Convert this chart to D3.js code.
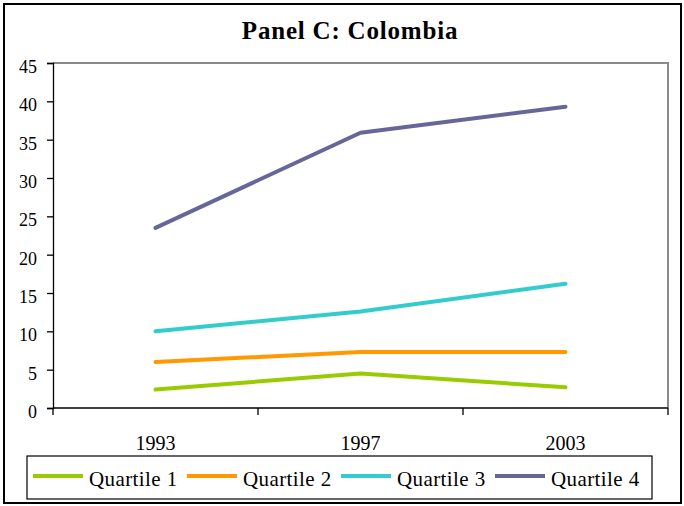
<!DOCTYPE html>
<html>
<head>
<meta charset="utf-8">
<script src="https://cdn.jsdelivr.net/npm/d3@7"></script>
<style>
  html, body { margin: 0; padding: 0; background: #fff; }
  svg { display: block; }
  text { font-family: "Liberation Serif", "DejaVu Serif", serif; fill: #000; }
</style>
</head>
<body>
<svg id="chart" width="684" height="506"></svg>
<script>
// Survey years on the category axis
const years = ["1993", "1997", "2003"];

// One series per income quartile
const quartile1 = [2.4, 4.5, 2.7];
const quartile2 = [6.0, 7.3, 7.3];
const quartile3 = [10.0, 12.6, 16.2];
const quartile4 = [23.5, 35.9, 39.3];

const seriesNames = ["Quartile 1", "Quartile 2", "Quartile 3", "Quartile 4"];
const seriesColors = ["#99cc00", "#ff9900", "#33cccc", "#666699"];
const yTicks = [0, 5, 10, 15, 20, 25, 30, 35, 40, 45];

const series = [quartile1, quartile2, quartile3, quartile4].map((vals, i) => ({
  name: seriesNames[i],
  color: seriesColors[i],
  values: vals.map((v, j) => ({ year: years[j], value: v }))
}));

const svg = d3.select("#chart");
const plot = { left: 53, right: 668, top: 63, bottom: 408 };

// Outer frame
svg.append("rect")
  .attr("x", 4).attr("y", 4)
  .attr("width", 677).attr("height", 499)
  .attr("fill", "none").attr("stroke", "#000").attr("stroke-width", 2);

// Title
svg.append("text")
  .attr("x", 350).attr("y", 39)
  .attr("text-anchor", "middle")
  .style("font-size", "25px").style("font-weight", "bold")
  .style("letter-spacing", "0.8px")
  .text("Panel C: Colombia");

const x = d3.scaleBand().domain(years).range([plot.left, plot.right]);
const y = d3.scaleLinear().domain([0, 45]).range([plot.bottom, plot.top]);

// Plot frame: grey top and right edges
svg.append("path")
  .attr("d", `M${plot.left},${plot.top}H${plot.right}V${plot.bottom}`)
  .attr("fill", "none").attr("stroke", "#8a8a8a").attr("stroke-width", 2);

// Y axis
const yAxis = svg.append("g")
  .attr("transform", `translate(${plot.left},0)`)
  .call(d3.axisLeft(y).tickValues(yTicks).tickSize(6).tickPadding(10).tickFormat(d3.format("d")));
yAxis.select(".domain").attr("stroke", "#000").attr("stroke-width", 1.3);
yAxis.selectAll(".tick line").attr("stroke", "#000").attr("stroke-width", 1.3);
yAxis.selectAll(".tick text")
  .style("font-size", "18px")
  .attr("font-family", null)
  .attr("dy", "0.52em");

// X axis: ticks on category boundaries, labels centred in each band
const xAxisG = svg.append("g").attr("transform", `translate(0,${plot.bottom})`);
xAxisG.append("line")
  .attr("x1", plot.left).attr("x2", plot.right)
  .attr("stroke", "#000").attr("stroke-width", 1.5);
const boundaries = years.map(d => x(d)).concat([x(years[years.length - 1]) + x.bandwidth()]);
xAxisG.selectAll("line.tick")
  .data(boundaries)
  .join("line").attr("class", "tick")
  .attr("x1", d => d).attr("x2", d => d)
  .attr("y1", 0).attr("y2", 7)
  .attr("stroke", "#000").attr("stroke-width", 1.3);
xAxisG.selectAll("text.label")
  .data(years)
  .join("text").attr("class", "label")
  .attr("x", d => x(d) + x.bandwidth() / 2)
  .attr("y", 42)
  .attr("text-anchor", "middle")
  .style("font-size", "20px")
  .text(d => d);

// Lines
const line = d3.line()
  .x(d => x(d.year) + x.bandwidth() / 2)
  .y(d => y(d.value));

svg.append("g").selectAll("path")
  .data(series)
  .join("path")
  .attr("d", d => line(d.values))
  .attr("fill", "none")
  .attr("stroke", d => d.color)
  .attr("stroke-width", 4)
  .attr("stroke-linejoin", "round")
  .attr("stroke-linecap", "round");

// Legend
svg.append("rect")
  .attr("x", 27).attr("y", 456)
  .attr("width", 625).attr("height", 43)
  .attr("fill", "#fff").attr("stroke", "#000").attr("stroke-width", 1.2);

const legend = svg.append("g").selectAll("g")
  .data(series)
  .join("g")
  .attr("transform", (d, i) => `translate(${33 + i * 154},476)`);
legend.append("line")
  .attr("x1", 0).attr("x2", 50)
  .attr("stroke", d => d.color)
  .attr("stroke-width", 4);
legend.append("text")
  .attr("x", 56).attr("y", 10)
  .style("font-size", "21px")
  .style("letter-spacing", "0.4px")
  .text(d => d.name);
</script>
</body>
</html>
